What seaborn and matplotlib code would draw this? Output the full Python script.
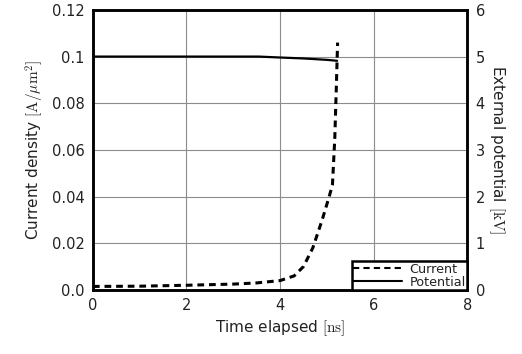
import matplotlib
matplotlib.use("Agg")
import matplotlib.pyplot as plt
import seaborn as sns
import pandas as pd
from matplotlib.lines import Line2D

sns.set_theme(style="white")
plt.rcParams["font.family"] = ["DejaVu Sans"]
plt.rcParams["mathtext.fontset"] = "cm"

# Data
time_current = [0.0, 1.0, 2.0, 3.0, 3.5, 4.0, 4.3, 4.5, 4.7, 4.9, 5.05, 5.12, 5.17, 5.2, 5.23]
current = [0.0015, 0.0016, 0.002, 0.0025, 0.003, 0.004, 0.006, 0.010, 0.018, 0.030, 0.040, 0.045, 0.065, 0.085, 0.106]
time_potential = [0.0, 1.0, 2.0, 3.0, 3.55, 4.0, 4.5, 5.0, 5.22]
potential = [5.0, 5.0, 5.0, 5.0, 5.0, 4.98, 4.96, 4.93, 4.91]

df_c = pd.DataFrame({"t": time_current, "j": current})
df_p = pd.DataFrame({"t": time_potential, "v": potential})

fig = plt.figure(figsize=(5.22, 3.54), dpi=100)
ax = fig.add_axes([0.178, 0.181, 0.717, 0.791])
ax2 = ax.twinx()

sns.lineplot(data=df_c, x="t", y="j", ax=ax, color="black", linestyle=(0, (2.2, 1.6)), linewidth=2.2)
sns.lineplot(data=df_p, x="t", y="v", ax=ax2, color="black", linestyle="-", linewidth=1.6)

ax.set_xlim(0, 8)
ax.set_ylim(0, 0.12)
ax2.set_ylim(0, 6)
ax.set_xticks([0, 2, 4, 6, 8])
ax.set_yticks([0.0, 0.02, 0.04, 0.06, 0.08, 0.1, 0.12])
ax.set_yticklabels(["0.0", "0.02", "0.04", "0.06", "0.08", "0.1", "0.12"])
ax2.set_yticks([0, 1, 2, 3, 4, 5, 6])

ax.grid(True, color="#8c8c8c", linewidth=0.8)
ax.set_axisbelow(True)

for a in (ax, ax2):
    for s in a.spines.values():
        s.set_color("black")
        s.set_linewidth(1.8)
    a.tick_params(length=0, labelsize=10.5, colors="#222222", pad=6)

ax.set_xlabel(r"Time elapsed $[\mathrm{ns}]$", fontsize=11, color="#222222")
ax.set_ylabel(r"Current density $[\mathrm{A}/\mu\mathrm{m}^2]$", fontsize=11, color="#222222")
ax2.set_ylabel(r"External potential $[\mathrm{kV}]$", fontsize=11, color="#222222", rotation=270, labelpad=16)

handles = [Line2D([0], [0], color="black", linestyle=(0, (3, 2)), linewidth=1.5),
           Line2D([0], [0], color="black", linestyle="-", linewidth=1.5)]
leg = ax2.legend(handles, ["Current", "Potential"], loc="lower right", fontsize=9.2,
                 frameon=True, fancybox=False, borderaxespad=0, handlelength=3.8,
                 handletextpad=0.6, borderpad=0.1, labelspacing=0.0)
leg.get_frame().set_edgecolor("black")
leg.get_frame().set_linewidth(1.8)
leg.get_frame().set_alpha(1)
for t in leg.get_texts():
    t.set_color("#222222")

fig.savefig("out.png", dpi=100)
